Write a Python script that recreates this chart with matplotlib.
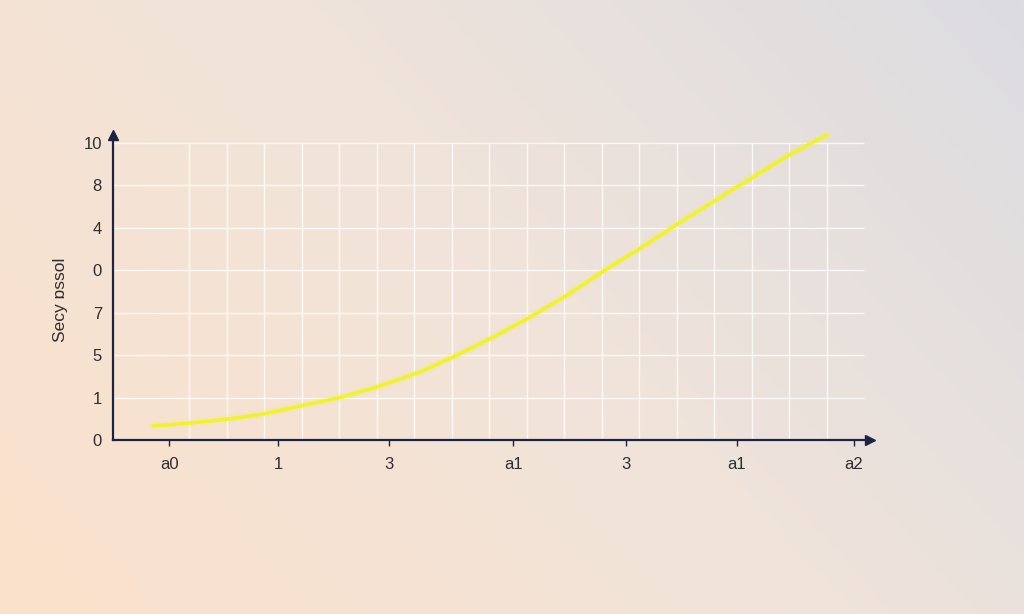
import numpy as np
import matplotlib.pyplot as plt
from matplotlib.colors import LinearSegmentedColormap

plt.rcParams['font.family'] = ['Liberation Sans', 'DejaVu Sans']

# curve (grid units)
x = [-0.96, 0.03, 1.01, 1.97, 2.96, 4.03, 5.09, 6.16, 7.15, 8.11,
     9.09, 10.08, 11.09, 12.08, 13.07, 14.05, 15.04, 16.0, 17.01]
y = [0.33, 0.40, 0.49, 0.61, 0.80, 1.0, 1.27, 1.60, 2.0, 2.42,
     2.89, 3.41, 4.0, 4.54, 5.11, 5.65, 6.19, 6.71, 7.18]

ytick_pos = [0, 1, 2, 3, 4, 5, 6, 7]
ytick_labels = ["0", "1", "5", "7", "0", "4", "8", "10"]
xtick_pos = [-0.53, 2.37, 5.33, 8.64, 11.65, 14.61, 17.73]
xtick_labels = ["a0", "1", "3", "a1", "3", "a1", "a2"]
ylabel = "Secy ɒssol"

fig = plt.figure(figsize=(10.24, 6.14), dpi=100)

# background gradient, peach bottom-left to grey top-right
bg = fig.add_axes([0, 0, 1, 1], zorder=-10)
gx, gy = np.meshgrid(np.linspace(0, 1, 256), np.linspace(0, 1, 256))
t = np.clip((gx * 0.85 + (1 - gy) * 0.45) / 1.3, 0, 1)
cmap = LinearSegmentedColormap.from_list("bg", ["#fbe1cb", "#f1e4da", "#dcdce1"])
bg.imshow(t, cmap=cmap, aspect="auto", extent=[0, 1, 0, 1], origin="upper")
bg.axis("off")

ax = fig.add_axes([0.1104, 0.2834, 0.7393, 0.4967])
ax.patch.set_alpha(0)
ax.set_xlim(-2.027, 18.16)
ax.set_ylim(0, 7.18)

# grid
ax.vlines(range(0, 18), 0, 7, color="white", lw=1.0, alpha=0.8, zorder=1)
ax.hlines(range(1, 8), -2.027, 18, color="white", lw=1.0, alpha=0.8, zorder=1)

# glow + line
ax.plot(x, y, color="#f4f25a", lw=6, alpha=0.25, solid_capstyle="round",
        clip_on=False, zorder=3)
ax.plot(x, y, color="#f0ef3e", lw=2.6, solid_capstyle="round",
        clip_on=False, zorder=4)

navy = "#1b2440"
for s in ["top", "right"]:
    ax.spines[s].set_visible(False)
for s in ["left", "bottom"]:
    ax.spines[s].set_color(navy)
    ax.spines[s].set_linewidth(1.6)
ax.plot(0, 1, marker="^", color=navy, ms=7, transform=ax.transAxes, clip_on=False)
ax.plot(1, 0, marker=">", color=navy, ms=7, transform=ax.transAxes, clip_on=False)

ax.set_yticks(ytick_pos)
ax.set_yticklabels(ytick_labels)
ax.set_xticks(xtick_pos)
ax.set_xticklabels(xtick_labels)
ax.tick_params(axis="y", length=0, pad=8, labelsize=12, labelcolor="#2e2e33")
ax.tick_params(axis="x", length=4, width=1, color=navy, pad=8,
               labelsize=12, labelcolor="#2e2e33")

fig.text(60 / 1024, 1 - 300 / 614, ylabel, rotation=90, ha="center", va="center",
         fontsize=12.5, color="#2e2e33")

fig.savefig("out.png", dpi=100)
